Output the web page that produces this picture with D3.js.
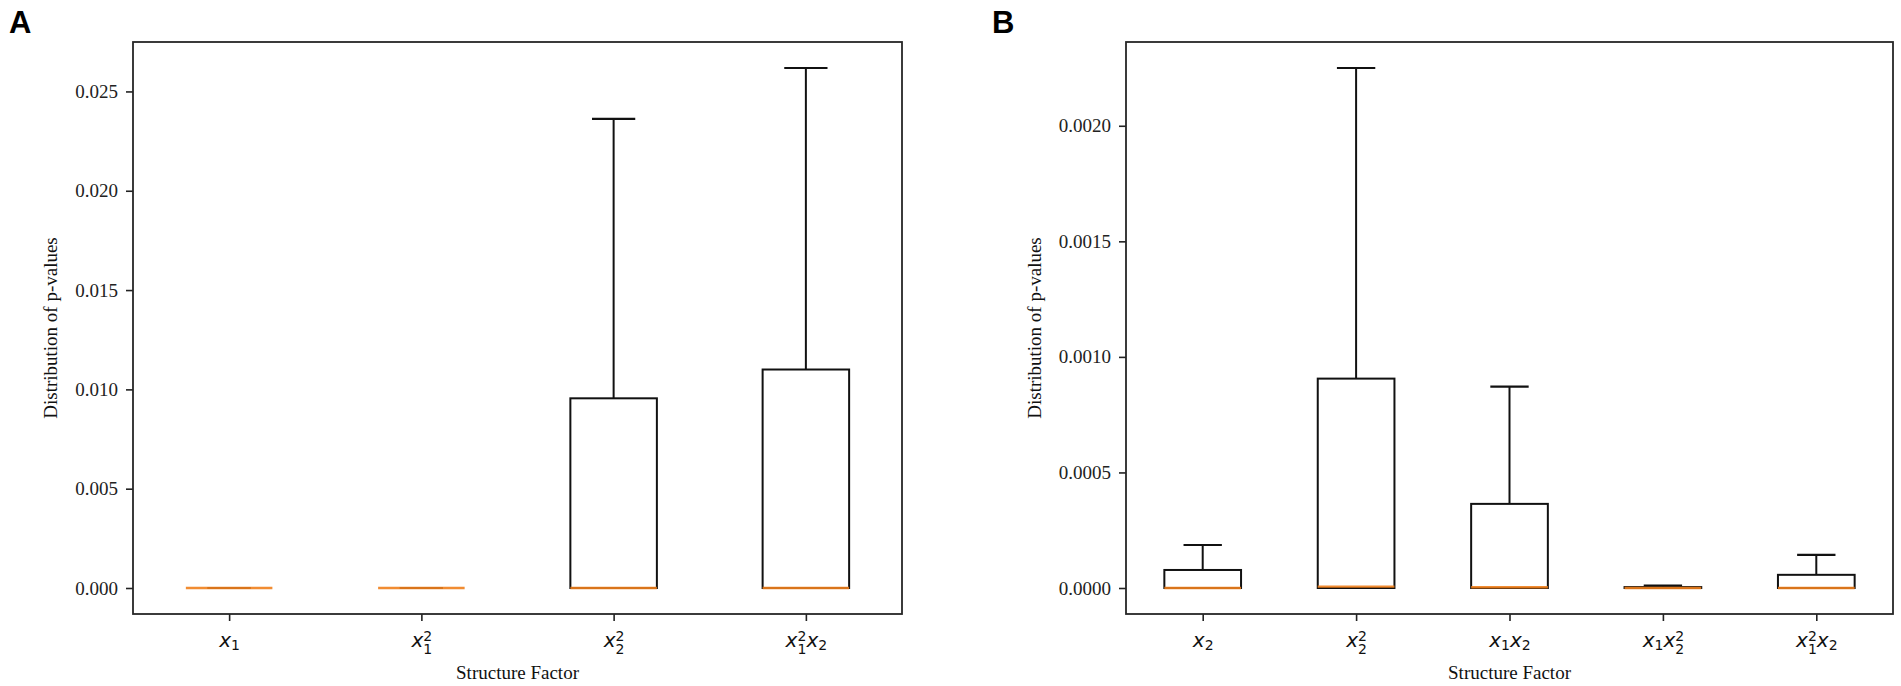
<!DOCTYPE html>
<html>
<head>
<meta charset="utf-8">
<script src="https://cdn.jsdelivr.net/npm/d3@7/dist/d3.min.js"></script>
<style>
  html, body { margin: 0; padding: 0; background: #fff; }
  svg { display: block; }
</style>
</head>
<body>
<svg id="chart" width="1901" height="686"></svg>
<script>
// panel A: structure factors and box statistics
var leftFactors = [
  [{ sub: "1" }],
  [{ sub: "1", sup: "2" }],
  [{ sub: "2", sup: "2" }],
  [{ sub: "1", sup: "2" }, { sub: "2" }]
];
var leftQ1 = [0, 0, 0, 0];
var leftMed = [0, 0, 0, 0];
var leftQ3 = [0, 0, 0.00955, 0.0110];
var leftLo = [0, 0, 0, 0];
var leftHi = [0, 0, 0.02362, 0.02618];
var leftTicks = [0, 0.005, 0.010, 0.015, 0.020, 0.025];

// panel B
var rightFactors = [
  [{ sub: "2" }],
  [{ sub: "2", sup: "2" }],
  [{ sub: "1" }, { sub: "2" }],
  [{ sub: "1" }, { sub: "2", sup: "2" }],
  [{ sub: "1", sup: "2" }, { sub: "2" }]
];
var rightQ1 = [0, 0, 0, 0, 0];
var rightMed = [0, 0.000006, 0.000003, 0, 0];
var rightQ3 = [0.000078, 0.000906, 0.000364, 0.000004, 0.000057];
var rightLo = [0, 0, 0, 0, 0];
var rightHi = [0.000186, 0.00225, 0.000871, 0.000010, 0.000143];
var rightTicks = [0, 0.0005, 0.0010, 0.0015, 0.0020];

var svg = d3.select("#chart");
var serif = "'Liberation Serif', 'Times New Roman', serif";
var mathFont = "'DejaVu Sans', sans-serif";
var medianColor = "#f07f1c";

function drawPanel(cfg) {
  var n = cfg.factors.length;
  var g = svg.append("g");

  var x = d3.scaleLinear().domain([0.5, n + 0.5]).range([cfg.x0, cfg.x1]);
  var ymax = d3.max(cfg.hi), ymin = d3.min(cfg.lo);
  var pad = (ymax - ymin) * 0.05;
  var y = d3.scaleLinear().domain([ymin - pad, ymax + pad]).range([cfg.y1, cfg.y0]);

  var boxW = Math.min(0.15 * (n - 1), 0.5);
  var items = d3.range(n).map(function(i) {
    return { pos: i + 1, q1: cfg.q1[i], med: cfg.med[i], q3: cfg.q3[i], lo: cfg.lo[i], hi: cfg.hi[i] };
  });

  // y axis
  var yAxis = g.append("g")
    .attr("transform", "translate(" + cfg.x0 + ",0)")
    .call(d3.axisLeft(y).tickValues(cfg.ticks).tickFormat(d3.format(cfg.fmt)).tickSize(7).tickPadding(8));
  yAxis.select(".domain").remove();
  yAxis.selectAll(".tick line").attr("stroke", "#222").attr("stroke-width", 1.6);
  yAxis.selectAll(".tick text")
    .attr("fill", "#222")
    .style("font-family", serif)
    .style("font-size", "19px");

  // x axis, labels rebuilt as math text
  var xAxis = g.append("g")
    .attr("transform", "translate(0," + cfg.y1 + ")")
    .call(d3.axisBottom(x).tickValues(d3.range(1, n + 1)).tickSize(7).tickFormat(""));
  xAxis.select(".domain").remove();
  xAxis.selectAll(".tick line").attr("stroke", "#222").attr("stroke-width", 1.6);
  xAxis.selectAll(".tick text").remove();
  xAxis.selectAll(".tick").append("text")
    .attr("y", 33)
    .attr("text-anchor", "middle")
    .attr("fill", "#111")
    .style("font-family", mathFont)
    .style("font-size", "20px")
    .each(function(d) { mathLabel(d3.select(this), cfg.factors[d - 1]); });

  // whiskers
  var bx = g.append("g").selectAll("g").data(items).join("g");
  bx.append("line")
    .attr("x1", function(d) { return x(d.pos); })
    .attr("x2", function(d) { return x(d.pos); })
    .attr("y1", function(d) { return y(d.q3); })
    .attr("y2", function(d) { return y(d.hi); })
    .attr("stroke", "#111").attr("stroke-width", 2);
  bx.append("line")
    .attr("x1", function(d) { return x(d.pos); })
    .attr("x2", function(d) { return x(d.pos); })
    .attr("y1", function(d) { return y(d.q1); })
    .attr("y2", function(d) { return y(d.lo); })
    .attr("stroke", "#111").attr("stroke-width", 2);
  // caps
  [["hi"], ["lo"]].forEach(function(k) {
    bx.append("line")
      .attr("x1", function(d) { return x(d.pos - boxW / 4); })
      .attr("x2", function(d) { return x(d.pos + boxW / 4); })
      .attr("y1", function(d) { return y(d[k[0]]); })
      .attr("y2", function(d) { return y(d[k[0]]); })
      .attr("stroke", "#111").attr("stroke-width", 2.2);
  });
  // boxes
  bx.append("rect")
    .attr("x", function(d) { return x(d.pos - boxW / 2); })
    .attr("width", function(d) { return x(d.pos + boxW / 2) - x(d.pos - boxW / 2); })
    .attr("y", function(d) { return y(d.q3); })
    .attr("height", function(d) { return y(d.q1) - y(d.q3); })
    .attr("fill", "none")
    .attr("stroke", "#111").attr("stroke-width", 2);
  // medians
  bx.append("line")
    .attr("x1", function(d) { return x(d.pos - boxW / 2); })
    .attr("x2", function(d) { return x(d.pos + boxW / 2); })
    .attr("y1", function(d) { return y(d.med); })
    .attr("y2", function(d) { return y(d.med); })
    .attr("stroke", medianColor).attr("stroke-opacity", 0.9).attr("stroke-width", 2.4);

  // frame
  g.append("rect")
    .attr("x", cfg.x0).attr("y", cfg.y0)
    .attr("width", cfg.x1 - cfg.x0).attr("height", cfg.y1 - cfg.y0)
    .attr("fill", "none").attr("stroke", "#262626").attr("stroke-width", 1.8);

  // axis titles
  g.append("text")
    .attr("x", (cfg.x0 + cfg.x1) / 2)
    .attr("y", 679)
    .attr("text-anchor", "middle")
    .attr("fill", "#111")
    .style("font-family", serif).style("font-size", "19px")
    .text("Structure Factor");
  g.append("text")
    .attr("transform", "translate(" + (cfg.x0 - cfg.ylabOff) + "," + ((cfg.y0 + cfg.y1) / 2) + ") rotate(-90)")
    .attr("text-anchor", "middle")
    .attr("fill", "#111")
    .style("font-family", serif).style("font-size", "19px")
    .text("Distribution of p-values");

  // panel letter
  svg.append("text")
    .attr("x", cfg.letterX).attr("y", 33)
    .attr("fill", "#000")
    .style("font-family", "'Liberation Sans', Arial, sans-serif")
    .style("font-size", "31px").style("font-weight", "bold")
    .text(cfg.letter);
}

// italic x with subscript / superscript digits, stacked like mathtext
function mathLabel(t, factors) {
  var cur = 0;
  var digitW = 0.636 * 14;
  function put(txt, shift, opts) {
    var s = t.append("tspan").text(txt).attr("dy", (shift - cur) + "px");
    cur = shift;
    if (opts.dx) s.attr("dx", opts.dx + "px");
    if (opts.italic) s.style("font-style", "italic");
    if (opts.small) s.style("font-size", "14px");
    return s;
  }
  factors.forEach(function(f) {
    put("x", 0, { italic: true });
    if (f.sup) {
      put(f.sup, -6, { small: true });
      put(f.sub, 7, { small: true, dx: -digitW });
    } else {
      put(f.sub, 3, { small: true });
    }
  });
}

drawPanel({
  factors: leftFactors, q1: leftQ1, med: leftMed, q3: leftQ3, lo: leftLo, hi: leftHi,
  ticks: leftTicks, fmt: ".3f",
  x0: 133, x1: 902, y0: 42, y1: 614, ylabOff: 76,
  letter: "A", letterX: 9
});
drawPanel({
  factors: rightFactors, q1: rightQ1, med: rightMed, q3: rightQ3, lo: rightLo, hi: rightHi,
  ticks: rightTicks, fmt: ".4f",
  x0: 1126, x1: 1893, y0: 42, y1: 614, ylabOff: 85,
  letter: "B", letterX: 992
});
</script>
</body>
</html>
